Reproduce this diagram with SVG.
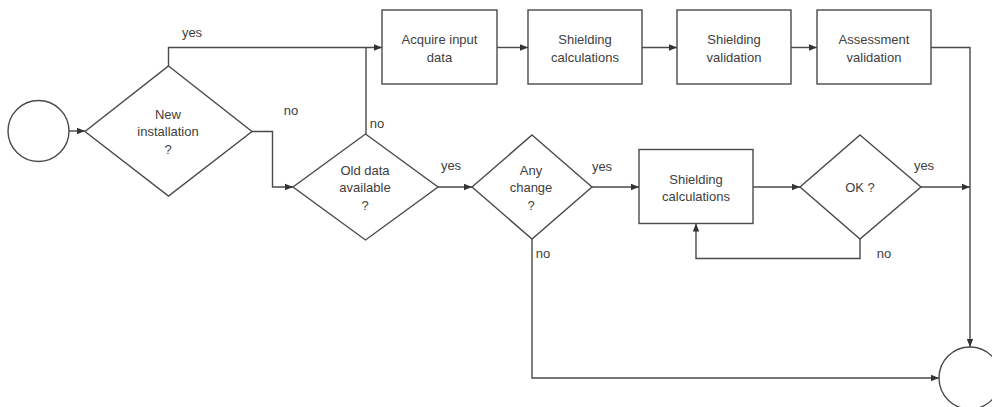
<svg xmlns="http://www.w3.org/2000/svg" width="992" height="407" viewBox="0 0 992 407">
  <style>
    .shape { fill: #ffffff; stroke: #4a4a4a; stroke-width: 1.4; }
    .edge { fill: none; stroke: #4a4a4a; stroke-width: 1.4; }
    .label { font-family: "Liberation Sans", Arial, sans-serif; font-size: 13px; fill: #404040; text-anchor: middle; }
    .tag { font-family: "Liberation Sans", Arial, sans-serif; font-size: 13px; fill: #404040; text-anchor: middle; }
  </style>
  <defs>
    <marker id="arrow" viewBox="0 0 8 8" refX="8" refY="4" markerWidth="8" markerHeight="8" markerUnits="userSpaceOnUse" orient="auto">
      <path d="M0,0.8 L8,4 L0,7.2 Z" fill="#333333"/>
    </marker>
  </defs>
  <rect width="992" height="407" fill="#ffffff"/>

  <!-- connectors -->
  <g id="connectors">
    <path class="edge" d="M69,131 L85,131" marker-end="url(#arrow)"/>
    <path class="edge" d="M168.5,66 L168.5,47.5 L382,47.5" marker-end="url(#arrow)"/>
    <path class="edge" d="M366,134 L366,47.5"/>
    <path class="edge" d="M252,131.5 L272.5,131.5 L272.5,187 L293,187" marker-end="url(#arrow)"/>
    <path class="edge" d="M497,47.5 L528,47.5" marker-end="url(#arrow)"/>
    <path class="edge" d="M642,47.5 L677,47.5" marker-end="url(#arrow)"/>
    <path class="edge" d="M791,47.5 L817,47.5" marker-end="url(#arrow)"/>
    <path class="edge" d="M931,47.5 L970,47.5 L970,347" marker-end="url(#arrow)"/>
    <path class="edge" d="M438,187 L472,187" marker-end="url(#arrow)"/>
    <path class="edge" d="M592,187 L639,187" marker-end="url(#arrow)"/>
    <path class="edge" d="M753,187 L800,187" marker-end="url(#arrow)"/>
    <path class="edge" d="M921,187 L970,187" marker-end="url(#arrow)"/>
    <path class="edge" d="M860,239 L860,258.5 L696,258.5 L696,223.5" marker-end="url(#arrow)"/>
    <path class="edge" d="M532,239 L532,378 L939,378" marker-end="url(#arrow)"/>
    <text class="tag" x="192" y="36.5">yes</text>
    <text class="tag" x="291" y="114.5">no</text>
    <text class="tag" x="377" y="128">no</text>
    <text class="tag" x="451" y="170">yes</text>
    <text class="tag" x="602" y="171">yes</text>
    <text class="tag" x="543" y="257.5">no</text>
    <text class="tag" x="924" y="169.5">yes</text>
    <text class="tag" x="884" y="257.5">no</text>
  </g>

  <!-- start -->
  <g id="start">
    <circle class="shape" cx="38.5" cy="131" r="30.5"/>
  </g>

  <!-- decision: new installation -->
  <g id="new-installation">
    <polygon class="shape" points="168.5,66 252,131.5 168.5,196 85,131.5"/>
    <text class="label" x="168" y="118.5">New</text>
    <text class="label" x="168" y="136">installation</text>
    <text class="label" x="168" y="154">?</text>
  </g>

  <!-- top branch -->
  <g id="acquire-input">
    <rect class="shape" x="382" y="10" width="115" height="74"/>
    <text class="label" x="439.5" y="43.5">Acquire input</text>
    <text class="label" x="439.5" y="61.5">data</text>
  </g>
  <g id="shielding-calc-top">
    <rect class="shape" x="528" y="10" width="114" height="74"/>
    <text class="label" x="585" y="43.5">Shielding</text>
    <text class="label" x="585" y="61.5">calculations</text>
  </g>
  <g id="shielding-validation">
    <rect class="shape" x="677" y="10" width="114" height="74"/>
    <text class="label" x="734" y="43.5">Shielding</text>
    <text class="label" x="734" y="61.5">validation</text>
  </g>
  <g id="assessment-validation">
    <rect class="shape" x="817" y="10" width="114" height="74"/>
    <text class="label" x="874" y="43.5">Assessment</text>
    <text class="label" x="874" y="61.5">validation</text>
  </g>

  <!-- lower branch -->
  <g id="old-data">
    <polygon class="shape" points="365.5,134 438,187 365.5,240 293,187"/>
    <text class="label" x="365" y="174.5">Old data</text>
    <text class="label" x="365" y="192">available</text>
    <text class="label" x="365" y="209.5">?</text>
  </g>
  <g id="any-change">
    <polygon class="shape" points="532,135 592,187 532,239 472,187"/>
    <text class="label" x="531" y="174.5">Any</text>
    <text class="label" x="531" y="192">change</text>
    <text class="label" x="531" y="209.5">?</text>
  </g>
  <g id="shielding-calc-loop">
    <rect class="shape" x="639" y="149.5" width="114" height="74"/>
    <text class="label" x="696" y="183.5">Shielding</text>
    <text class="label" x="696" y="201">calculations</text>
  </g>
  <g id="ok-check">
    <polygon class="shape" points="860,135 921,187 860,239 800,187"/>
    <text class="label" x="860" y="191.5">OK ?</text>
  </g>

  <!-- end -->
  <g id="end">
    <circle class="shape" cx="970" cy="378" r="31"/>
  </g>
</svg>
